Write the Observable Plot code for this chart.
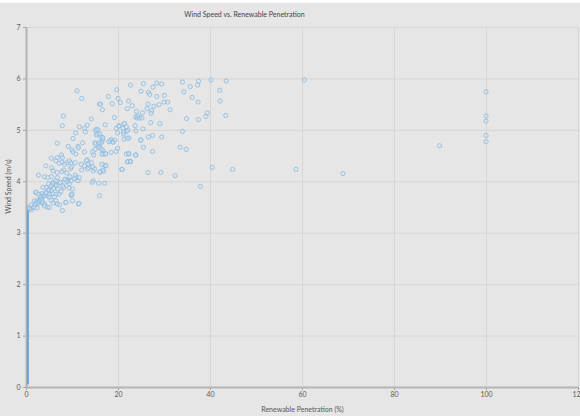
<!DOCTYPE html>
<html>
<head>
<meta charset="utf-8">
<script src="https://cdn.jsdelivr.net/npm/d3@7"></script>
<script src="https://cdn.jsdelivr.net/npm/@observablehq/plot@0.6"></script>
<style>
  html, body { margin: 0; padding: 0; background: #ffffff; }
  #strip { height: 3px; background: #ffffff; }
  #chart svg { display: block; }
</style>
</head>
<body>
<div id="strip"></div>
<div id="chart"></div>
<script>
const title = "Wind Speed vs. Renewable Penetration";
const xLabel = "Renewable Penetration (%)";
const yLabel = "Wind Speed (m/s)";
const xTicks = [0, 20, 40, 60, 80, 100, 120];
const yTicks = [0, 1, 2, 3, 4, 5, 6, 7];

// Renewable penetration (%) of each observation
const penetration = [
  60.4, 99.9, 99.9, 99.9, 99.9, 99.9, 89.8, 44.8, 58.6, 68.8,
  22.6, 25.4, 28.3, 29.4, 27.5, 33.9, 37.4, 37.2, 40.1, 43.4,
  35.6, 34.2, 42.0, 42.1, 43.3, 24.9, 26.5, 26.8, 28.3, 30.0,
  36.0, 37.3, 22.2, 23.0, 21.9, 26.4, 27.7, 28.8, 29.9, 30.7,
  31.2, 26.2, 27.2, 27.1, 25.2, 23.9, 39.3, 39.0, 34.8, 37.4,
  20.4, 23.7, 24.1, 24.6, 21.2, 23.6, 27.0, 29.0, 21.0, 23.8,
  21.7, 25.3, 33.9, 21.1, 21.2, 22.3, 24.8, 26.5, 27.4, 29.4,
  25.4, 27.4, 33.4, 34.7, 22.3, 23.8, 22.0, 22.6, 20.7, 26.4,
  29.2, 32.3, 40.4, 37.8,
  11.0, 12.0, 19.6, 17.8, 18.6, 15.9, 16.5, 8.0, 7.8, 14.1,
  19.1, 17.1, 19.5, 20.1, 13.2, 12.6, 11.5, 12.8, 10.7, 15.2,
  15.4, 16.2, 16.6, 16.4, 14.9, 18.2, 18.8, 19.2, 10.1, 12.2,
  9.1, 11.2, 9.9, 10.1, 10.7, 11.3, 14.9, 15.6, 15.9, 16.5,
  16.7, 17.2, 18.4, 19.8, 21.7, 20.8, 7.6, 7.7, 8.8, 9.6,
  10.6, 11.9, 13.2, 13.5, 12.0, 9.6, 8.1, 8.8, 10.6, 10.8,
  9.1, 14.5, 16.1, 16.6, 17.1, 14.5, 6.7, 16.1, 19.9,
  0.6, 1.1, 1.6, 1.9, 1.7, 2.3, 2.6, 2.9, 3.2, 3.5,
  3.6, 4.1, 4.3, 4.6, 3.3, 3.9, 2.0, 4.9, 4.3, 4.8,
  5.4, 5.8, 6.2, 6.4, 7.2, 6.7, 5.4, 4.6, 3.9, 2.6,
  4.2, 5.5, 5.8, 6.7, 6.4, 7.1, 7.8, 5.4, 6.7, 8.3,
  7.7, 8.5, 9.0, 9.3, 8.1, 7.5, 7.1, 6.4, 6.1, 5.7,
  4.9, 5.4, 5.8, 6.4, 4.5, 6.7, 7.8, 8.5, 9.8, 11.3,
  10.0, 2.3, 1.0, 3.3, 3.6, 9.3, 10.0, 9.4, 9.8, 9.3,
  24.2, 25.1, 20.1, 21.3, 21.7, 15.0, 15.5, 15.9, 15.2, 19.8,
  21.1, 22.0, 21.9, 18.4, 17.9, 18.8, 16.6, 16.2, 15.7, 15.0,
  24.9, 12.6, 14.4, 14.6, 16.2, 16.4, 17.2, 19.5, 22.2, 23.7,
  13.0, 13.5, 14.1, 12.6, 13.3, 14.4, 14.8, 15.9, 16.4, 16.8,
  17.3, 22.0, 22.6,
  0.65, 1.0, 2.0, 2.3, 2.8, 3.2, 3.5, 3.0, 2.6, 2.1,
  3.9, 4.3, 4.8, 5.0, 5.4, 5.9, 5.7, 6.5, 6.8, 7.4,
  7.9, 8.3, 8.8, 9.7, 10.4, 11.2, 11.5, 3.9, 5.0, 7.2,
  8.6, 9.7, 11.4, 15.9, 9.9, 15.7, 14.3, 17.0
];

// Wind speed (m/s) of each observation
const windSpeed = [
  5.98, 5.75, 5.28, 5.18, 4.90, 4.78, 4.70, 4.24, 4.24, 4.16,
  5.88, 5.91, 5.92, 5.90, 5.84, 5.94, 5.96, 5.88, 5.98, 5.96,
  5.85, 5.75, 5.78, 5.57, 5.29, 5.76, 5.74, 5.70, 5.66, 5.68,
  5.64, 5.55, 5.57, 5.48, 5.42, 5.51, 5.47, 5.50, 5.55, 5.55,
  5.40, 5.42, 5.38, 5.33, 5.34, 5.37, 5.34, 5.27, 5.23, 5.21,
  5.54, 5.26, 5.24, 5.24, 5.13, 5.09, 5.15, 5.13, 5.04, 4.99,
  4.98, 5.03, 4.98, 4.93, 4.83, 4.85, 4.81, 4.87, 4.90, 4.87,
  4.67, 4.59, 4.67, 4.63, 4.54, 4.52, 4.39, 4.40, 4.24, 4.18,
  4.18, 4.12, 4.28, 3.91,
  5.77, 5.62, 5.79, 5.66, 5.52, 5.51, 5.40, 5.28, 5.09, 5.22,
  5.25, 5.11, 5.04, 5.09, 5.10, 5.04, 5.07, 4.97, 4.95, 5.02,
  4.93, 4.87, 4.83, 4.78, 4.76, 4.80, 4.78, 4.81, 4.84, 4.76,
  4.69, 4.69, 4.62, 4.58, 4.54, 4.66, 4.63, 4.71, 4.67, 4.62,
  4.54, 4.55, 4.57, 4.65, 4.54, 4.24, 4.52, 4.38, 4.37, 4.37,
  4.37, 4.34, 4.43, 4.28, 4.23, 4.26, 4.23, 4.17, 4.13, 4.08,
  4.04, 4.21, 4.19, 4.23, 4.32, 4.02, 4.75, 5.51, 5.62,
  3.50, 3.49, 3.50, 3.57, 3.63, 3.63, 3.58, 3.63, 3.68, 3.71,
  3.76, 3.77, 3.79, 3.73, 3.59, 3.57, 3.79, 3.84, 3.89, 3.96,
  3.92, 3.99, 3.94, 4.02, 3.98, 4.08, 4.10, 4.08, 4.10, 4.13,
  4.31, 4.27, 4.21, 4.18, 4.41, 4.36, 4.47, 4.46, 4.47, 4.34,
  4.20, 4.04, 4.01, 3.96, 3.89, 3.81, 3.76, 3.76, 3.71, 3.77,
  3.70, 3.64, 3.59, 3.63, 3.51, 3.57, 3.44, 3.60, 3.74, 3.57,
  3.63, 3.49, 3.45, 3.77, 3.89, 3.88, 3.86, 4.10, 4.29, 4.41,
  5.28, 5.24, 5.08, 5.13, 5.07, 5.00, 5.01, 4.93, 4.91, 4.95,
  4.97, 5.00, 4.85, 4.82, 4.78, 4.77, 4.86, 4.75, 4.76, 4.73,
  4.81, 4.58, 4.58, 4.52, 4.64, 4.54, 4.54, 4.59, 4.55, 4.52,
  4.41, 4.34, 4.37, 4.31, 4.25, 4.29, 4.25, 4.19, 4.34, 4.21,
  4.31, 4.39, 4.39,
  3.48, 3.55, 3.57, 3.60, 3.63, 3.66, 3.61, 3.71, 3.76, 3.80,
  3.73, 3.79, 3.84, 3.76, 3.83, 3.87, 3.96, 3.92, 3.86, 3.99,
  3.92, 4.05, 4.00, 4.02, 4.06, 4.02, 4.08, 3.53, 3.50, 3.55,
  3.60, 3.74, 3.58, 3.73, 3.76, 3.97, 3.99, 3.97
];

// Observations with (almost) zero renewable penetration
const zeroPenetration = 0.3;
const zeroWind = [
  0.08, 0.14, 0.22, 0.30, 0.37, 0.46, 0.53, 0.61, 0.69, 0.77,
  0.86, 0.93, 1.01, 1.09, 1.18, 1.25, 1.33, 1.42, 1.49, 1.57,
  1.66, 1.74, 1.81, 1.90, 1.97, 2.06, 2.13, 2.21, 2.30, 2.38,
  2.45, 2.54, 2.62, 2.69, 2.78, 2.85, 2.94, 3.02, 3.09, 3.18,
  3.26, 3.33, 3.40, 3.46
];

const pts = penetration.map((x, i) => ({x, y: windSpeed[i]}));
const zpts = zeroWind.map(y => ({x: zeroPenetration, y}));

const W = 580, H = 413;
const mL = 26, mR = 2, mT = 24, mB = 29;

const chart = Plot.plot({
  width: W,
  height: H,
  marginLeft: mL,
  marginRight: mR,
  marginTop: mT,
  marginBottom: mB,
  style: {background: "#e6e6e6", fontFamily: "Lato, 'Open Sans', sans-serif", fontSize: "7px", color: "#555"},
  x: {domain: [0, 120], label: null},
  y: {domain: [0, 7], label: null},
  marks: [
    Plot.gridX(xTicks, {stroke: "#d6d6d6", strokeOpacity: 1, strokeWidth: 1}),
    Plot.gridY(yTicks, {stroke: "#d6d6d6", strokeOpacity: 1, strokeWidth: 1}),
    Plot.axisX(xTicks, {tickSize: 3, tickPadding: 2, stroke: "#a0a0a0", fill: "#5a5a5a", label: null, tickFormat: d => String(d)}),
    Plot.axisY(yTicks, {tickSize: 3, tickPadding: 3, stroke: "#a0a0a0", fill: "#5a5a5a", label: null, tickFormat: d => String(d)}),
    Plot.ruleX([0], {stroke: "#b4b4b4", strokeWidth: 2}),
    Plot.ruleY([0], {stroke: "#b4b4b4", strokeWidth: 2}),
    Plot.line(zpts, {x: "x", y: "y", stroke: "#6aa5d6", strokeWidth: 2}),
    Plot.dot(zpts, {x: "x", y: "y", r: 0.9, fill: "#6aa5d6", stroke: "none"}),
    Plot.dot(pts, {x: "x", y: "y", r: 2.1, stroke: "#8dbbe0", strokeWidth: 0.85, fill: "#dbe6ef", fillOpacity: 0.35}),
    Plot.text([title], {frameAnchor: "top-left", dx: 218, dy: -13, lineAnchor: "middle", textAnchor: "middle", fill: "#444", fontSize: 7}),
    Plot.text([xLabel], {frameAnchor: "bottom", dy: 22, lineAnchor: "middle", textAnchor: "middle", fill: "#555", fontSize: 7}),
    Plot.text([yLabel], {frameAnchor: "left", dx: -18, dy: -21, rotate: -90, lineAnchor: "middle", textAnchor: "middle", fill: "#555", fontSize: 7})
  ]
});

document.getElementById("chart").appendChild(chart);
</script>
</body>
</html>
